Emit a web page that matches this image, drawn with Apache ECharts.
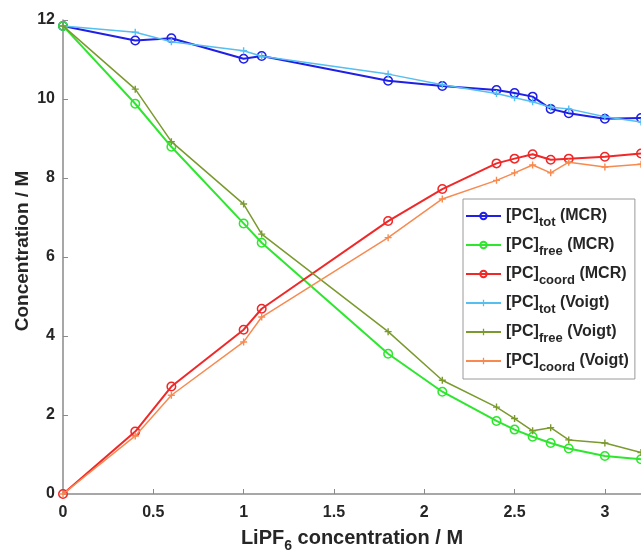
<!DOCTYPE html>
<html>
<head>
<meta charset="utf-8">
<script src="https://cdn.jsdelivr.net/npm/echarts@6/dist/echarts.min.js"></script>
<style>
html,body{margin:0;padding:0;background:#fff;}
#chart{width:641px;height:552px;}
</style>
</head>
<body>
<div id="chart"></div>
<script>
// LiPF6 concentration (M)
const lipf6 = [0, 0.4, 0.6, 1.0, 1.1, 1.8, 2.1, 2.4, 2.5, 2.6, 2.7, 2.8, 3.0, 3.2];
// MCR results
const totMCR   = [11.85, 11.48, 11.54, 11.02, 11.09, 10.46, 10.33, 10.23, 10.15, 10.06, 9.75, 9.64, 9.50, 9.52];
const freeMCR  = [11.85, 9.88, 8.79, 6.85, 6.36, 3.55, 2.59, 1.85, 1.63, 1.45, 1.29, 1.15, 0.96, 0.88];
const coordMCR = [0, 1.58, 2.72, 4.16, 4.69, 6.91, 7.72, 8.37, 8.49, 8.60, 8.46, 8.49, 8.54, 8.62];
// Voigt fit results
const totVoigt   = [11.85, 11.69, 11.45, 11.22, 11.08, 10.63, 10.36, 10.14, 10.03, 9.93, 9.79, 9.75, 9.55, 9.42];
const freeVoigt  = [11.85, 10.25, 8.92, 7.34, 6.58, 4.11, 2.88, 2.20, 1.91, 1.60, 1.68, 1.37, 1.29, 1.05];
const coordVoigt = [0, 1.47, 2.50, 3.85, 4.48, 6.49, 7.47, 7.94, 8.13, 8.33, 8.13, 8.40, 8.28, 8.35];

const seriesNames = ['[PC]tot (MCR)', '[PC]free (MCR)', '[PC]coord (MCR)', '[PC]tot (Voigt)', '[PC]free (Voigt)', '[PC]coord (Voigt)'];
const seriesSubs = ['tot', 'free', 'coord', 'tot', 'free', 'coord'];
const seriesMethods = ['MCR', 'MCR', 'MCR', 'Voigt', 'Voigt', 'Voigt'];
const seriesValues = [totMCR, freeMCR, coordMCR, totVoigt, freeVoigt, coordVoigt];
const seriesColors = ['#1f1fe6', '#2ee62e', '#f02828', '#55bff0', '#7a9a2e', '#f88a50'];

const xTicks = [0, 0.5, 1, 1.5, 2, 2.5, 3];
const yTicks = [0, 2, 4, 6, 8, 10, 12];

const FONT = '"Liberation Sans", Arial, Helvetica, sans-serif';
const TXT = '#262626';
const PLUS = 'path://M4,0H6V4H10V6H6V10H4V6H0V4H4Z';

const series = seriesValues.map((vals, i) => {
  const isMCR = seriesMethods[i] === 'MCR';
  const c = seriesColors[i];
  return {
    name: seriesNames[i],
    type: 'line',
    data: lipf6.map((x, k) => [x, vals[k]]),
    symbol: isMCR ? 'circle' : PLUS,
    symbolSize: isMCR ? 8.5 : 7,
    showAllSymbol: true,
    clip: false,
    lineStyle: {color: c, width: isMCR ? 2 : 1.5},
    itemStyle: isMCR ? {color: 'rgba(0,0,0,0)', borderColor: c, borderWidth: 1.5}
                     : {color: c, borderWidth: 0},
    emphasis: {disabled: true},
    z: 2 + i
  };
});

const chart = echarts.init(document.getElementById('chart'), null, {renderer: 'canvas'});
chart.setOption({
  animation: false,
  backgroundColor: '#fff',
  grid: {left: 63, right: 0, top: 20, bottom: 58, containLabel: false, outerBoundsMode: 'none'},
  xAxis: {
    type: 'value', min: 0, max: 3.2, interval: 0.5,
    name: 'LiPF{s|6} concentration / M',
    nameLocation: 'middle', nameGap: 29,
    nameMoveOverlap: false,
    nameTextStyle: {
      fontFamily: FONT, fontSize: 20, fontWeight: 'bold', color: TXT,
      rich: {s: {fontFamily: FONT, fontSize: 14, fontWeight: 'bold', color: TXT, padding: [16, 0, 0, 0]}}
    },
    axisLine: {show: true, lineStyle: {color: '#8a8a8a', width: 1.5}},
    axisTick: {show: true, inside: true, length: 5, lineStyle: {color: '#8a8a8a', width: 1}},
    axisLabel: {
      fontFamily: FONT, fontSize: 16, fontWeight: 'bold', color: TXT, margin: 11,
      showMaxLabel: false,
      formatter: v => (xTicks.indexOf(v) >= 0 ? String(v) : '')
    },
    splitLine: {show: false}
  },
  yAxis: {
    type: 'value', min: 0, max: 12, interval: 2,
    name: 'Concentration / M',
    nameLocation: 'middle', nameGap: 31,
    nameMoveOverlap: false,
    nameTextStyle: {fontFamily: FONT, fontSize: 19, fontWeight: 'bold', color: TXT, padding: [0, 0, 0, 12]},
    axisLine: {show: true, lineStyle: {color: '#8a8a8a', width: 1.5}},
    axisTick: {show: true, inside: true, length: 5, lineStyle: {color: '#8a8a8a', width: 1}},
    axisLabel: {
      fontFamily: FONT, fontSize: 16, fontWeight: 'bold', color: TXT, margin: 8,
      formatter: v => (yTicks.indexOf(v) >= 0 ? String(v) : '')
    },
    splitLine: {show: false}
  },
  legend: {
    orient: 'vertical',
    left: 463, top: 199,
    padding: [4, 6, 5, 2],
    itemGap: 3,
    itemWidth: 35, itemHeight: 8,
    backgroundColor: '#fff',
    borderColor: '#9a9a9a', borderWidth: 1,
    selectedMode: false,
    data: seriesNames,
    formatter: name => {
      const i = seriesNames.indexOf(name);
      return '{m|[PC]}{s|' + seriesSubs[i] + '}{m| (' + seriesMethods[i] + ')}';
    },
    textStyle: {
      fontFamily: FONT, fontSize: 16, fontWeight: 'bold', color: TXT,
      rich: {
        m: {fontFamily: FONT, fontSize: 16, fontWeight: 'bold', color: TXT, lineHeight: 17},
        s: {fontFamily: FONT, fontSize: 13, fontWeight: 'bold', color: TXT, lineHeight: 13, padding: [13, 0, 0, 0]}
      }
    }
  },
  series: series
});
</script>
</body>
</html>
